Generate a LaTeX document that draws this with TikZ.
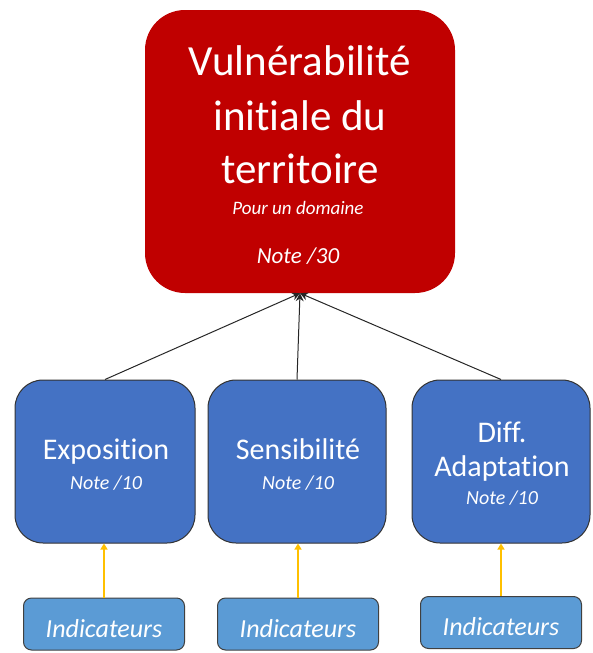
\documentclass[tikz,border=0pt]{standalone}
\usepackage{fontspec}
\setmainfont{Carlito}[Ligatures=NoCommon]
\usetikzlibrary{arrows.meta}
\definecolor{vred}{HTML}{C00000}
\definecolor{vblue}{HTML}{4472C4}
\definecolor{iblue}{HTML}{5B9BD5}
\definecolor{vyel}{HTML}{FFC000}
\definecolor{vline}{HTML}{262626}
\begin{document}
\begin{tikzpicture}[x=1pt,y=-1pt,
  redbox/.style={fill=vred, rounded corners=40pt, minimum width=310pt, minimum height=283pt, inner sep=0pt},
  bluebox/.style={fill=vblue, draw=black!80, line width=1pt, rounded corners=28pt, minimum height=163pt, inner sep=0pt},
  indbox/.style={fill=iblue, draw=black!75, line width=1pt, rounded corners=8pt, minimum width=161pt, minimum height=52pt, inner sep=0pt},
  ttl/.style={anchor=base, text=white, inner sep=0pt, font=\fontsize{43}{50}\selectfont},
  sub/.style={anchor=base, text=white, inner sep=0pt, font=\fontsize{19}{22}\selectfont\itshape},
  notebig/.style={anchor=base, text=white, inner sep=0pt, font=\fontsize{23}{26}\selectfont\itshape},
  btxt/.style={anchor=base, text=white, inner sep=0pt, font=\fontsize{30}{34}\selectfont},
  bnote/.style={anchor=base, text=white, inner sep=0pt, font=\fontsize{20}{24}\selectfont\itshape},
  itxt/.style={anchor=base, text=white, inner sep=0pt, font=\fontsize{26}{30}\selectfont\itshape},
  conn/.style={draw=vline, line width=1pt, -{Stealth[length=8pt,width=8pt]}},
  yarr/.style={draw=vyel, line width=1.3pt, -{Triangle[length=6pt,width=7pt]}}
]
\useasboundingbox (0,0) rectangle (592,653);

% main box
\node[redbox] (top) at (300,151.5) {};
\node[ttl] (t1) at (300,75) {Vulnérabilité};
\node[ttl] (t2) at (300,130) {initiale du};
\node[ttl] (t3) at (300,183) {territoire};
\node[sub] (t4) at (298,214) {Pour un domaine};
\node[notebig] (t5) at (298,263) {Note /30};

% blue boxes
\node[bluebox, minimum width=180pt] (b1) at (105,461.5) {};
\node[bluebox, minimum width=178pt] (b2) at (297,461.5) {};
\node[bluebox, minimum width=178pt] (b3) at (501,461.5) {};

\node[btxt] (e1) at (106,459) {Exposition};
\node[bnote] (e2) at (106,489) {Note /10};
\node[btxt] (s1) at (298,459) {Sensibilité};
\node[bnote] (s2) at (298,489) {Note /10};
\node[btxt] (d1) at (502,442) {Diff.};
\node[btxt] (d2) at (502,476) {Adaptation};
\node[bnote] (d3) at (502,504) {Note /10};

% indicator boxes
\node[indbox] (i1) at (104,624) {};
\node[indbox] (i2) at (298,624) {};
\node[indbox] (i3) at (501,622.5) {};
\node[itxt] (it1) at (104,637) {Indicateurs};
\node[itxt] (it2) at (298,637) {Indicateurs};
\node[itxt] (it3) at (501,635.5) {Indicateurs};

% connectors
\draw[conn] (b1.north) -- (top.south);
\draw[conn] (b2.north) -- (top.south);
\draw[conn] (b3.north) -- (top.south);

\draw[yarr] (i1.north) -- (b1.south -| i1.north);
\draw[yarr] (i2.north) -- (b2.south -| i2.north);
\draw[yarr] (i3.north) -- (b3.south -| i3.north);
\end{tikzpicture}
\end{document}
